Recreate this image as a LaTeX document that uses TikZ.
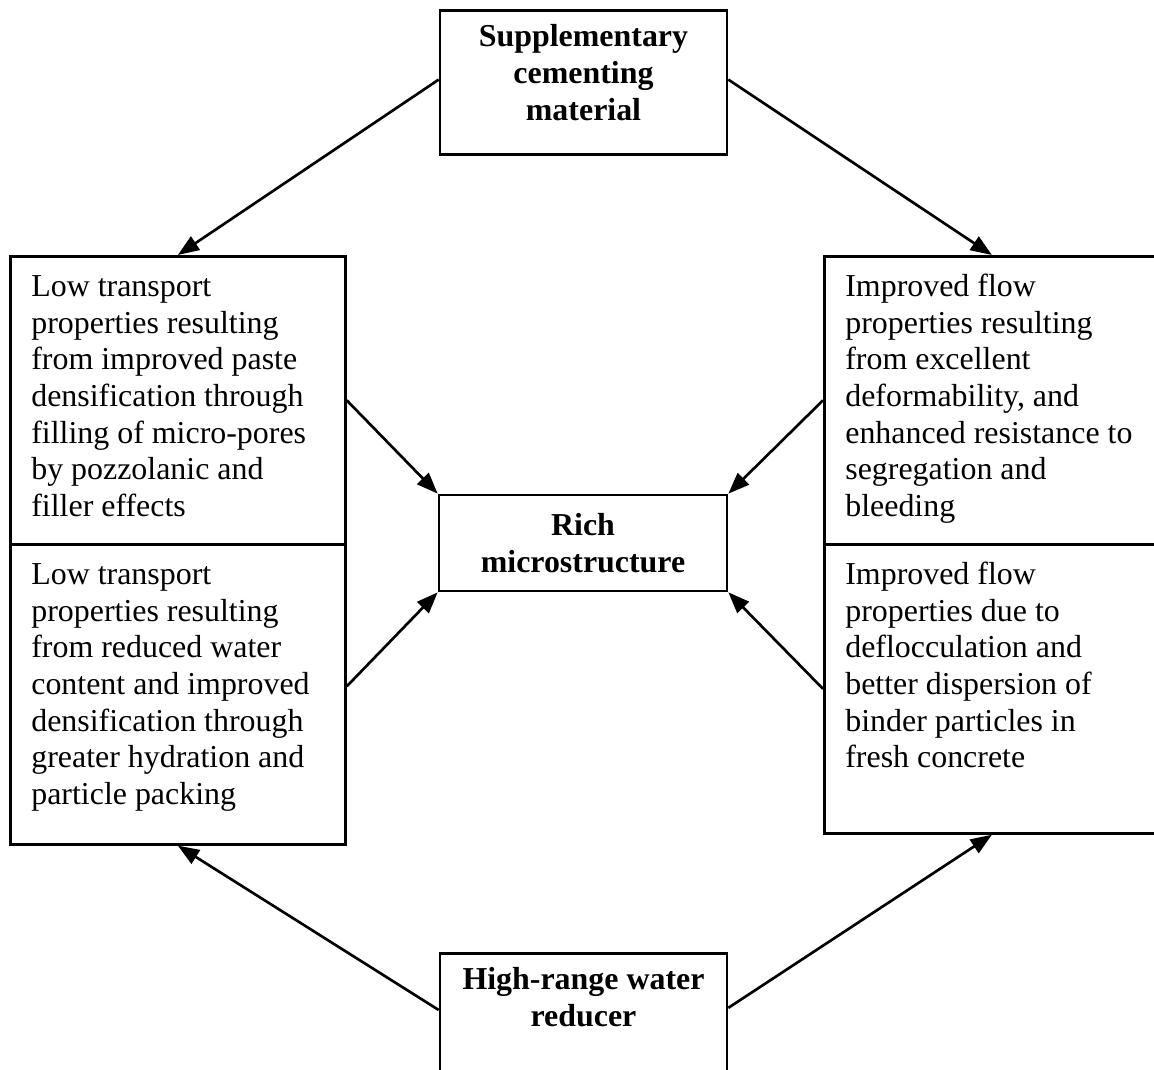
\documentclass[tikz,border=0pt]{standalone}
\usepackage{fontspec}
\setmainfont{Liberation Serif}
\usetikzlibrary{arrows.meta}

\tikzset{
  panel/.style={draw, line width=1pt, rectangle, anchor=north west, inner xsep=7.9pt, inner ysep=5.4pt, font=\fontsize{12}{13.8}\selectfont},
  titlebox/.style={draw, line width=1pt, rectangle, inner xsep=3.95pt, inner ysep=4pt, font=\fontsize{12}{13.8}\selectfont\bfseries},
  link/.style={line width=1pt, -{Triangle[length=8pt,width=6pt]}}
}
\newcommand{\paneltext}[2]{\parbox[t][#1][t]{110.2pt}{\raggedright\strut #2}}
\newcommand{\titletext}[2]{\parbox[t][#1][t]{100pt}{\centering\strut #2}}

\begin{document}
\begin{tikzpicture}[x=0.376pt, y=-0.376pt]
\useasboundingbox (0,0) rectangle (1154,1070);
\node[titlebox, anchor=north] (sup) at (583.5,9) {\titletext{46.1pt}{Supplementary\\cementing\\material}};
\node[titlebox, minimum width=108.3pt, minimum height=36.1pt, align=center] (rich) at (583,543) {Rich\\microstructure};
\node[titlebox, anchor=north] (hrwr) at (583.5,952) {\titletext{40.9pt}{High-range water\\reducer}};
\node[panel] (lowtop) at (9,255) {\paneltext{97.5pt}{Low transport\\properties resulting\\from improved paste\\densification through\\filling of micro-pores\\by pozzolanic and\\filler effects}};
\node[panel] (lowbot) at (9,543) {\paneltext{102pt}{Low transport\\properties resulting\\from reduced water\\content and improved\\densification through\\greater hydration and\\particle packing}};
\node[panel] (flowtop) at (823,255) {\paneltext{97.5pt}{Improved flow\\properties resulting\\from excellent\\deformability, and\\enhanced resistance to\\segregation and\\bleeding}};
\node[panel] (flowbot) at (823,543) {\paneltext{97.9pt}{Improved flow\\properties due to\\deflocculation and\\better dispersion of\\binder particles in\\fresh concrete}};
\draw[link] ([yshift=1pt]sup.west) -- (lowtop.north);
\draw[link] ([yshift=1pt]sup.east) -- (flowtop.north);
\draw[link] (lowtop.east) -- (rich.north west);
\draw[link] (flowtop.west) -- (rich.north east);
\draw[link] ([yshift=3pt]lowbot.east) -- (rich.south west);
\draw[link] (flowbot.west) -- (rich.south east);
\draw[link] ([yshift=-21.8pt]hrwr.north west) -- (lowbot.south);
\draw[link] ([yshift=-21pt]hrwr.north east) -- (flowbot.south);
\end{tikzpicture}
\end{document}
